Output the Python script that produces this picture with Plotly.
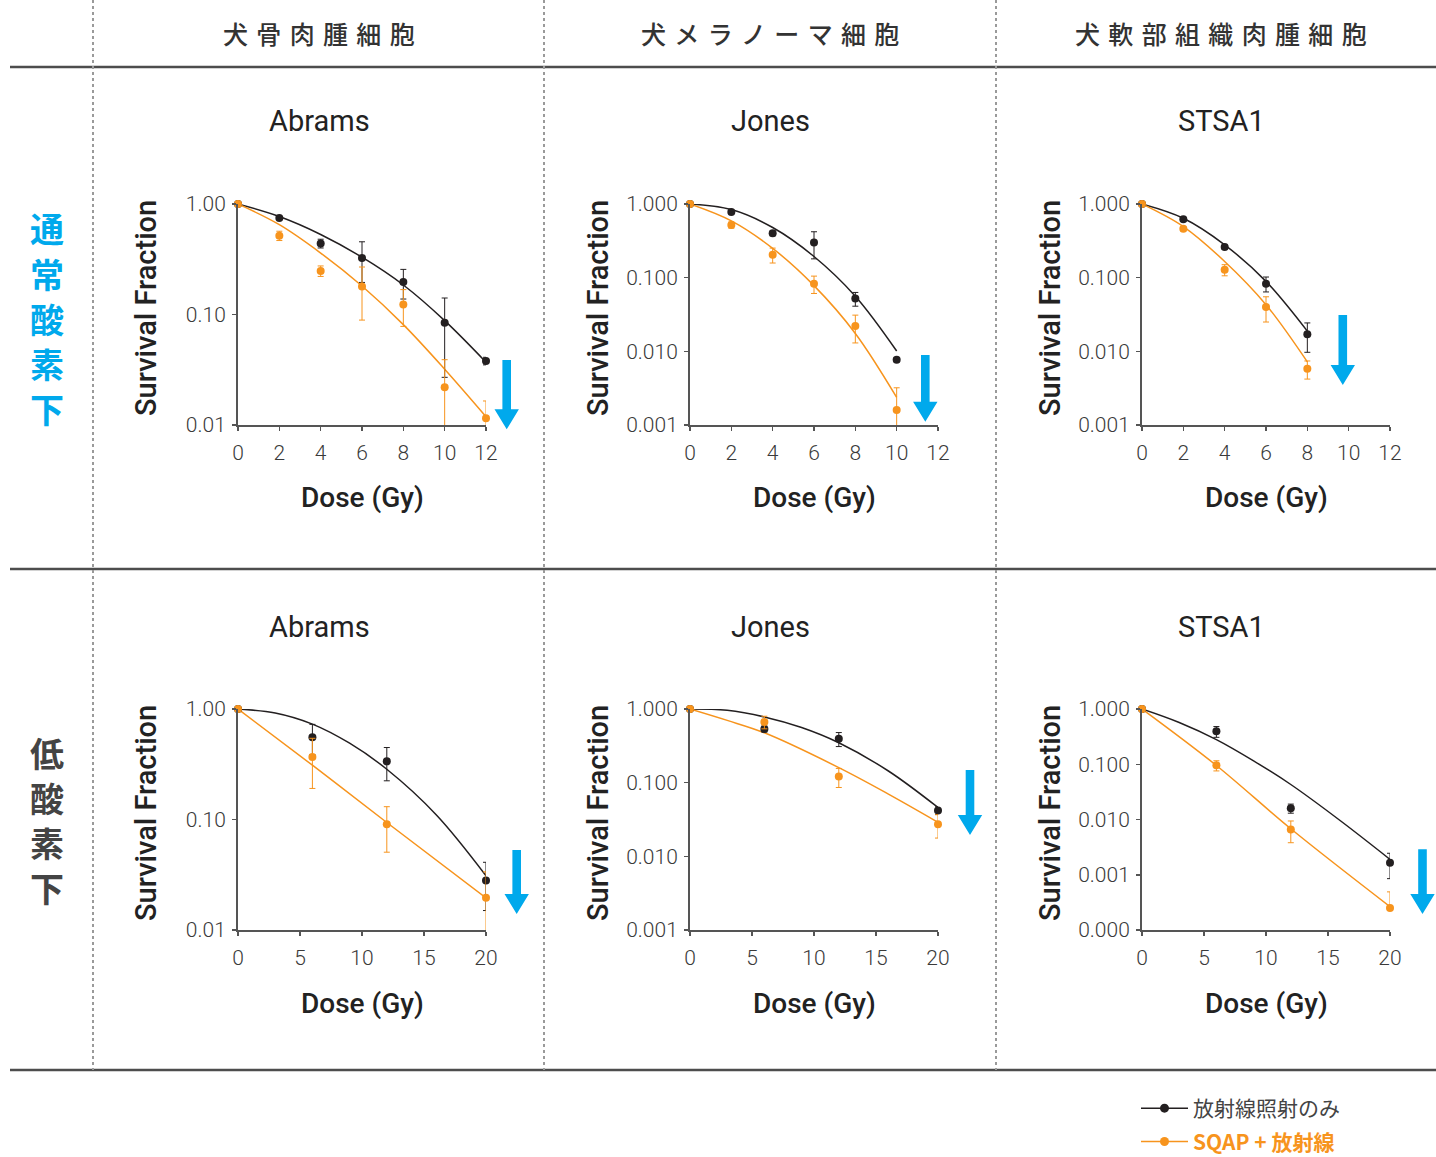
import math
import plotly.graph_objects as go

W, H = 1436, 1157

# ---------------- data ----------------
col_headers = ["犬骨肉腫細胞", "犬メラノーマ細胞", "犬軟部組織肉腫細胞"]
row_labels = ["通常酸素下", "低酸素下"]
cell_lines = ["Abrams", "Jones", "STSA1"]
legend_names = ["放射線照射のみ", "SQAP + 放射線"]

# Normoxia (top row)
n_abrams_dose = [0, 2, 4, 6, 8, 10, 12]
n_abrams_rt = [1.0, 0.746, 0.44, 0.325, 0.197, 0.084, 0.038]
n_abrams_rt_err = [0.0, 0.02, 0.04, 0.13, 0.059, 0.057, 0.003]
n_abrams_sq = [1.0, 0.517, 0.248, 0.179, 0.123, 0.022, 0.0115]
n_abrams_sq_err = [0.0, 0.05, 0.027, 0.09, 0.045, 0.017, 0.005]
n_abrams_fit_rt = [1.0, 0.77, 0.53, 0.33, 0.185, 0.088, 0.037]
n_abrams_fit_sq = [1.0, 0.65, 0.36, 0.181, 0.081, 0.032, 0.0119]

n_jones_dose = [0, 2, 4, 6, 8, 10]
n_jones_rt = [1.0, 0.78, 0.40, 0.30, 0.052, 0.0077]
n_jones_rt_err = [0.0, 0.03, 0.03, 0.12, 0.011, 0.0005]
n_jones_sq = [1.0, 0.52, 0.205, 0.083, 0.022, 0.0016]
n_jones_sq_err = [0.0, 0.05, 0.047, 0.022, 0.009, 0.0016]
n_jones_fit_rt = [1.0, 0.84, 0.48, 0.194, 0.056, 0.0101]
n_jones_fit_sq = [1.0, 0.59, 0.25, 0.078, 0.0175, 0.00237]

n_stsa_dose = [0, 2, 4, 6, 8]
n_stsa_rt = [1.0, 0.62, 0.26, 0.083, 0.017]
n_stsa_rt_err = [0.0, 0.04, 0.015, 0.019, 0.0073]
n_stsa_sq = [1.0, 0.46, 0.128, 0.040, 0.0058]
n_stsa_sq_err = [0.0, 0.03, 0.022, 0.015, 0.0016]
n_stsa_fit_rt = [1.0, 0.64, 0.279, 0.089, 0.0188]
n_stsa_fit_sq = [1.0, 0.494, 0.166, 0.043, 0.0072]

# Hypoxia (bottom row)
h_dose = [0, 6, 12, 20]
h_abrams_rt = [1.0, 0.556, 0.336, 0.028]
h_abrams_rt_err = [0.0, 0.17, 0.112, 0.013]
h_abrams_sq = [1.0, 0.367, 0.0906, 0.0196]
h_abrams_sq_err = [0.0, 0.176, 0.04, 0.014]
h_abrams_fit_dose_rt = [0, 3, 6, 9, 12, 16, 20]
h_abrams_fit_rt = [1.0, 0.92, 0.73, 0.49, 0.285, 0.11, 0.031]
h_abrams_fit_dose_sq = [0, 6, 12, 20]
h_abrams_fit_sq = [1.0, 0.31, 0.094, 0.0195]

h_jones_rt = [1.0, 0.537, 0.394, 0.042]
h_jones_rt_err = [0.0, 0.05, 0.085, 0.005]
h_jones_sq = [1.0, 0.668, 0.121, 0.0272]
h_jones_sq_err = [0.0, 0.13, 0.035, 0.0095]
h_jones_fit_dose_rt = [0, 3, 6, 9, 12, 16, 20]
h_jones_fit_rt = [1.0, 0.96, 0.78, 0.56, 0.348, 0.144, 0.046]
h_jones_fit_dose_sq = [0, 3, 6, 12, 16, 20]
h_jones_fit_sq = [1.0, 0.70, 0.475, 0.16, 0.07, 0.029]

h_stsa_rt = [1.0, 0.394, 0.016, 0.00165]
h_stsa_rt_err = [0.0, 0.087, 0.003, 0.0008]
h_stsa_sq = [1.0, 0.0957, 0.0066, 0.00025]
h_stsa_sq_err_plus = [0.0, 0.02, 0.0028, 0.00024]
h_stsa_sq_err_minus = [0.0, 0.02, 0.0028, 0.0]
h_stsa_fit_dose_rt = [0, 3, 6, 9, 12, 16, 20]
h_stsa_fit_rt = [1.0, 0.57, 0.279, 0.115, 0.043, 0.0095, 0.0019]
h_stsa_fit_dose_sq = [0, 6, 12, 20]
h_stsa_fit_sq = [1.0, 0.095, 0.0068, 0.000265]

x_ticks_top = [0, 2, 4, 6, 8, 10, 12]
x_ticks_bottom = [0, 5, 10, 15, 20]
y_ticks_2 = [0.01, 0.1, 1.0]
y_labels_2 = ["0.01", "0.10", "1.00"]
y_ticks_3 = [0.001, 0.01, 0.1, 1.0]
y_labels_3 = ["0.001", "0.010", "0.100", "1.000"]
y_ticks_4 = [0.0001, 0.001, 0.01, 0.1, 1.0]
y_labels_4 = ["0.000", "0.001", "0.010", "0.100", "1.000"]

# ---------------- style ----------------
BLACK = "#231f20"
ORANGE = "#f7941d"
BLUE = "#00a9ec"
AXIS = "#555555"
TXT = "#333333"
FONT = "Roboto, 'Noto Sans CJK JP', sans-serif"
CJK = "'Noto Sans CJK JP', sans-serif"


def px_x(x):
    return x / W


def px_y(y):
    return 1 - y / H


panels = [
    (n_abrams_dose, n_abrams_rt, n_abrams_rt_err, n_abrams_sq, n_abrams_sq_err, n_abrams_sq_err,
     n_abrams_dose, n_abrams_fit_rt, n_abrams_dose, n_abrams_fit_sq, x_ticks_top, 12, y_ticks_2, y_labels_2, 0.01, (238, 486), (204, 425)),
    (n_jones_dose, n_jones_rt, n_jones_rt_err, n_jones_sq, n_jones_sq_err, n_jones_sq_err,
     n_jones_dose, n_jones_fit_rt, n_jones_dose, n_jones_fit_sq, x_ticks_top, 12, y_ticks_3, y_labels_3, 0.001, (690, 938), (204, 425)),
    (n_stsa_dose, n_stsa_rt, n_stsa_rt_err, n_stsa_sq, n_stsa_sq_err, n_stsa_sq_err,
     n_stsa_dose, n_stsa_fit_rt, n_stsa_dose, n_stsa_fit_sq, x_ticks_top, 12, y_ticks_3, y_labels_3, 0.001, (1142, 1390), (204, 425)),
    (h_dose, h_abrams_rt, h_abrams_rt_err, h_abrams_sq, h_abrams_sq_err, h_abrams_sq_err,
     h_abrams_fit_dose_rt, h_abrams_fit_rt, h_abrams_fit_dose_sq, h_abrams_fit_sq, x_ticks_bottom, 20, y_ticks_2, y_labels_2, 0.01, (238, 486), (709, 930)),
    (h_dose, h_jones_rt, h_jones_rt_err, h_jones_sq, h_jones_sq_err, h_jones_sq_err,
     h_jones_fit_dose_rt, h_jones_fit_rt, h_jones_fit_dose_sq, h_jones_fit_sq, x_ticks_bottom, 20, y_ticks_3, y_labels_3, 0.001, (690, 938), (709, 930)),
    (h_dose, h_stsa_rt, h_stsa_rt_err, h_stsa_sq, h_stsa_sq_err_plus, h_stsa_sq_err_minus,
     h_stsa_fit_dose_rt, h_stsa_fit_rt, h_stsa_fit_dose_sq, h_stsa_fit_sq, x_ticks_bottom, 20, y_ticks_4, y_labels_4, 0.0001, (1142, 1390), (709, 930)),
]

fig = go.Figure()
layout = {}

for i, p in enumerate(panels):
    (dose, rt, rt_err, sq, sqp, sqm, fdr, frt, fds, fsq, xt, xmax, yt, yl, ymin, dx, dy) = p
    n = i + 1
    xa = "x" if n == 1 else f"x{n}"
    ya = "y" if n == 1 else f"y{n}"
    fig.add_trace(go.Scatter(x=fdr, y=frt, mode="lines", line=dict(color=BLACK, width=1.5, shape="spline"),
                             xaxis=xa, yaxis=ya, showlegend=False, cliponaxis=False, hoverinfo="skip"))
    fig.add_trace(go.Scatter(x=fds, y=fsq, mode="lines", line=dict(color=ORANGE, width=1.5, shape="spline"),
                             xaxis=xa, yaxis=ya, showlegend=False, cliponaxis=False, hoverinfo="skip"))
    fig.add_trace(go.Scatter(x=dose, y=rt, mode="markers",
                             marker=dict(color=BLACK, size=8),
                             error_y=dict(type="data", array=rt_err, color=BLACK, thickness=1, width=3),
                             xaxis=xa, yaxis=ya, showlegend=False, cliponaxis=False))
    fig.add_trace(go.Scatter(x=dose, y=sq, mode="markers",
                             marker=dict(color=ORANGE, size=8),
                             error_y=dict(type="data", symmetric=False, array=sqp, arrayminus=sqm,
                                          color=ORANGE, thickness=1, width=3),
                             xaxis=xa, yaxis=ya, showlegend=False, cliponaxis=False))
    key_x = "xaxis" if n == 1 else f"xaxis{n}"
    key_y = "yaxis" if n == 1 else f"yaxis{n}"
    layout[key_x] = dict(domain=[px_x(dx[0]), px_x(dx[1])], range=[0, xmax], anchor=ya,
                         tickvals=xt, ticktext=[str(v) for v in xt], automargin=False,
                         showline=True, linecolor=AXIS, linewidth=2, ticks="outside", ticklen=4,
                         tickcolor=AXIS, tickwidth=1.5, showgrid=False, zeroline=False,
                         tickfont=dict(family=FONT, size=21, color="#3a3a3a", weight=300),
                         ticklabelstandoff=4, fixedrange=True)
    layout[key_y] = dict(domain=[px_y(dy[1]), px_y(dy[0])], type="log",
                         range=[math.log10(ymin), 0], anchor=xa, automargin=False,
                         tickvals=yt, ticktext=yl,
                         showline=True, linecolor=AXIS, linewidth=2, ticks="outside", ticklen=4,
                         tickcolor=AXIS, tickwidth=1.5, showgrid=False, zeroline=False,
                         tickfont=dict(family=FONT, size=21, color="#3a3a3a", weight=300),
                         ticklabelstandoff=2, fixedrange=True)

# legend traces (legend-only entries)
fig.add_trace(go.Scatter(x=[None], y=[None], mode="lines+markers", legendgroup="a",
                         line=dict(color=BLACK, width=1.5), marker=dict(color=BLACK, size=9),
                         name=f"<span style='color:#444444'>{legend_names[0]}</span>"))
fig.add_trace(go.Scatter(x=[None], y=[None], mode="lines+markers", legendgroup="b",
                         line=dict(color=ORANGE, width=1.5), marker=dict(color=ORANGE, size=9),
                         name=f"<span style='color:{ORANGE}'><b>{legend_names[1]}</b></span>"))

annotations = []
shapes = []

# Column headers
col_centers = [319, 770, 1221]
for c, t in zip(col_centers, col_headers):
    annotations.append(dict(x=px_x(c), y=px_y(33), xref="paper", yref="paper", showarrow=False,
                            text="\u2004".join(t), font=dict(family=CJK, size=25, color=TXT, weight=500),
                            xanchor="center", yanchor="middle"))
# Row labels (one character per line)
for label, y_first, color in [(row_labels[0], 228, BLUE), (row_labels[1], 752, "#444444")]:
    for k, ch in enumerate(label):
        annotations.append(dict(x=px_x(47), y=px_y(y_first + 45 * k), xref="paper", yref="paper",
                                showarrow=False, text=ch,
                                font=dict(family=CJK, size=34, color=color, weight=700),
                                xanchor="center", yanchor="middle"))

# Panel titles and axis titles
for r, (ty, ay_c, dx_y) in enumerate([(121, 308, 498), (627, 813, 1003)]):
    for ci, c in enumerate(col_centers):
        annotations.append(dict(x=px_x(c), y=px_y(ty), xref="paper", yref="paper", showarrow=False,
                                text=cell_lines[ci], font=dict(family=FONT, size=29, color="#222222"),
                                xanchor="center", yanchor="middle"))
        x0 = [238, 690, 1142][ci]
        annotations.append(dict(x=px_x(x0 - 92), y=px_y(ay_c), xref="paper", yref="paper", showarrow=False,
                                text="Survival Fraction", textangle=-90,
                                font=dict(family=FONT, size=29, color="#222222", weight=500),
                                xanchor="center", yanchor="middle"))
        annotations.append(dict(x=px_x(x0 + 124), y=px_y(dx_y), xref="paper", yref="paper", showarrow=False,
                                text="Dose (Gy)",
                                font=dict(family=FONT, size=28, color="#222222", weight=500),
                                xanchor="center", yanchor="middle"))

# Horizontal rules
for yy in [67, 569, 1070]:
    shapes.append(dict(type="line", xref="paper", yref="paper", x0=px_x(10), x1=1, y0=px_y(yy), y1=px_y(yy),
                       line=dict(color="#4d4d4d", width=2.5)))
# Vertical dotted separators
for xx in [93, 544, 996]:
    shapes.append(dict(type="line", xref="paper", yref="paper", x0=px_x(xx), x1=px_x(xx), y0=px_y(0), y1=px_y(1070),
                       line=dict(color="#9a9a9a", width=2, dash="dot")))

# Blue down arrows
arrows = [(506.7, 360, 429.3), (925.3, 355, 421.7), (1342.8, 315, 385),
          (516.7, 850, 914), (970, 770, 835), (1422.5, 849.3, 914)]
sw, hw, hh = 4.3, 12.2, 20
for xc, top, tip in arrows:
    base = tip - hh
    pts = [(xc - sw, top), (xc + sw, top), (xc + sw, base), (xc + hw, base), (xc, tip),
           (xc - hw, base), (xc - sw, base)]
    path = "M " + " L ".join(f"{px_x(a):.5f},{px_y(b):.5f}" for a, b in pts) + " Z"
    shapes.append(dict(type="path", xref="paper", yref="paper", path=path,
                       fillcolor=BLUE, line=dict(width=0)))

fig.update_layout(
    width=W, height=H, margin=dict(l=0, r=0, t=0, b=0, autoexpand=False),
    paper_bgcolor="white", plot_bgcolor="white",
    annotations=annotations, shapes=shapes,
    showlegend=True,
    legend=dict(x=px_x(1136), y=px_y(1088), xanchor="left", yanchor="top",
                font=dict(family=CJK, size=21, color="#444444"),
                itemwidth=47, traceorder="grouped", tracegroupgap=3,
                bgcolor="rgba(0,0,0,0)"),
    **layout,
)

fig.write_html(
    "out.html",
    config={"displayModeBar": False, "staticPlot": True},
    post_script="document.body.style.margin='0';document.body.style.padding='0';document.body.style.overflow='hidden';",
)
